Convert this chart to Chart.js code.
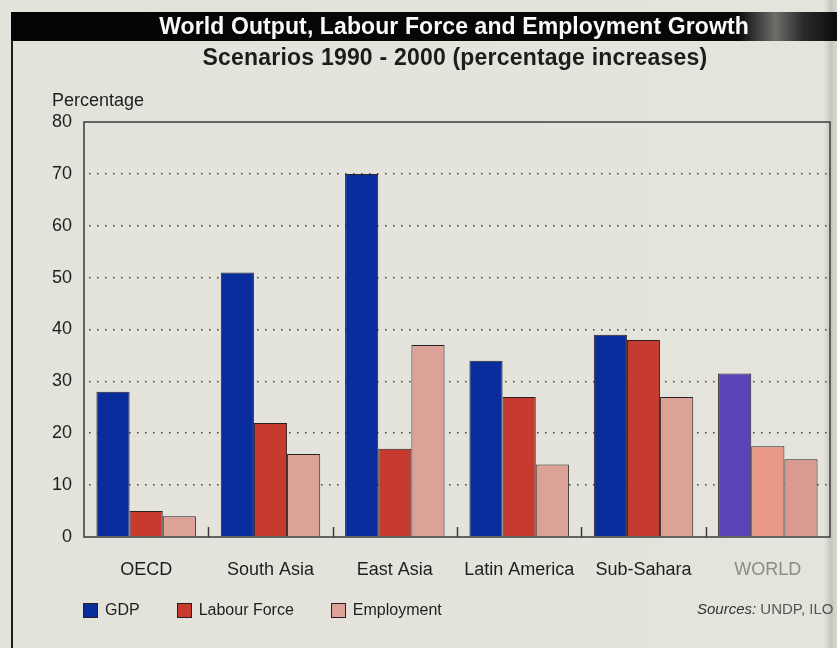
<!DOCTYPE html>
<html>
<head>
<meta charset="utf-8">
<script src="https://cdn.jsdelivr.net/npm/chart.js@4.4.1/dist/chart.umd.min.js"></script>
<style>
  html, body { margin: 0; padding: 0; }
  body {
    width: 837px; height: 648px; overflow: hidden;
    background: linear-gradient(to right, #e3e3db 0, #e4e4dc 98.4%, #c6c6be 99.3%, #d8d8d0 100%);
    font-family: "Liberation Sans", Arial, sans-serif;
  }
  #page { position: relative; width: 837px; height: 648px; }
  #chart { position: absolute; left: 0; top: 0; }
  #frameLeft { position: absolute; left: 11px; top: 40px; width: 2px; height: 608px; background: #1e1e1e; }
  #bar {
    position: absolute; left: 11px; top: 12px; width: 826px; height: 29px;
    background: linear-gradient(to right, #050505 0, #080808 88%, #6d6d6a 92.5%, #2a2a2a 96%, #0c0c0c 100%);
  }
  #title {
    position: absolute; left: 0; width: 886px; top: 1px; text-align: center;
    color: #fafafa; font-weight: bold; font-size: 23px; letter-spacing: 0.1px;
  }
  #subtitle {
    position: absolute; left: 0; width: 910px; top: 44px; text-align: center;
    color: #1c1c1c; font-weight: bold; font-size: 23px; letter-spacing: 0.2px;
  }
  #ylabel { position: absolute; left: 52px; top: 90px; font-size: 18px; color: #1e1e1e; }
  #legend { position: absolute; left: 83px; top: 601px; display: flex; align-items: center; font-size: 16px; color: #1e1e1e; }
  .item { display: flex; align-items: center; margin-right: 37px; }
  .box { width: 13px; height: 13px; border: 1px solid #2a2020; margin-right: 7px; }
  #source { position: absolute; left: 697px; top: 600px; font-size: 15px; color: #333; }
  #source span { color: #555; }
</style>
</head>
<body>
<div id="page">
  <canvas id="chart" width="837" height="648"></canvas>
  <div id="frameLeft"></div>
  <div id="bar"><div id="title">World Output, Labour Force and Employment Growth</div></div>
  <div id="subtitle">Scenarios 1990 - 2000 (percentage increases)</div>
  <div id="ylabel">Percentage</div>
  <div id="legend"></div>
  <div id="source"><i>Sources:</i><span> UNDP, ILO</span></div>
</div>
<script>
const regions = ['OECD', 'South Asia', 'East Asia', 'Latin America', 'Sub-Sahara', 'WORLD'];
const seriesNames = ['GDP', 'Labour Force', 'Employment'];
const gdp = [28, 51, 70, 34, 39, 31.5];
const labourForce = [5, 22, 17, 27, 38, 17.5];
const employment = [4, 16, 37, 14, 27, 15];
const yTicks = [0, 10, 20, 30, 40, 50, 60, 70, 80];

// regional bars share one colour, the world group is printed in lighter tints
const baseColors = ['#0a2d9e', '#c73a30', '#dca297'];
const worldColors = ['#5a44b8', '#e99a86', '#d99b8f'];
const colorsFor = i => regions.map(r => r === 'WORLD' ? worldColors[i] : baseColors[i]);

Chart.defaults.font.family = '"Liberation Sans", Arial, sans-serif';
Chart.defaults.color = '#1e1e1e';

// plot frame plus the short marks between groups on the baseline
const framePlugin = {
  id: 'frame',
  afterDatasetsDraw(chart) {
    const { ctx, chartArea: a, scales: { x } } = chart;
    ctx.save();
    ctx.strokeStyle = '#3a3a3a';
    ctx.lineWidth = 1.5;
    ctx.strokeRect(a.left, a.top, a.right - a.left, a.bottom - a.top);
    ctx.beginPath();
    for (let i = 1; i < regions.length; i++) {
      const px = Math.round((x.getPixelForValue(i - 1) + x.getPixelForValue(i)) / 2) + 0.5;
      ctx.moveTo(px, a.bottom);
      ctx.lineTo(px, a.bottom - 10);
    }
    ctx.stroke();
    ctx.restore();
  }
};

const chart = new Chart(document.getElementById('chart'), {
  type: 'bar',
  data: {
    labels: regions,
    datasets: [gdp, labourForce, employment].map((values, i) => ({
      label: seriesNames[i],
      data: values,
      backgroundColor: colorsFor(i),
      borderColor: '#2a2020',
      borderWidth: 1,
      categoryPercentage: 0.8,
      barPercentage: 1
    }))
  },
  options: {
    responsive: false,
    animation: false,
    layout: { padding: { left: 40, top: 122, right: 7, bottom: 71 } },
    plugins: {
      legend: { display: false },
      tooltip: { enabled: false }
    },
    scales: {
      x: {
        afterFit: s => { s.height = 40; },
        grid: { display: false },
        border: { display: false },
        ticks: {
          padding: 14,
          font: { size: 18 },
          color: c => regions[c.index] === 'WORLD' ? '#8c8c88' : '#1e1e1e'
        }
      },
      y: {
        min: 0,
        max: 80,
        afterFit: s => { s.width = 44; },
        afterBuildTicks: s => { s.ticks = yTicks.map(v => ({ value: v })); },
        grid: {
          drawTicks: false,
          lineWidth: 1.6,
          color: c => (c.tick.value === 0 || c.tick.value === 80) ? 'rgba(0,0,0,0)' : '#4e4e4e'
        },
        border: { display: false, dash: [1.6, 6.4], dashOffset: -5 },
        ticks: { padding: 12, font: { size: 18 }, color: '#1e1e1e' }
      }
    }
  },
  plugins: [framePlugin]
});

// legend built from the datasets
const legend = document.getElementById('legend');
chart.data.datasets.forEach((ds, i) => {
  const item = document.createElement('div');
  item.className = 'item';
  const box = document.createElement('div');
  box.className = 'box';
  box.style.background = baseColors[i];
  item.appendChild(box);
  item.appendChild(document.createTextNode(ds.label));
  legend.appendChild(item);
});
</script>
</body>
</html>
